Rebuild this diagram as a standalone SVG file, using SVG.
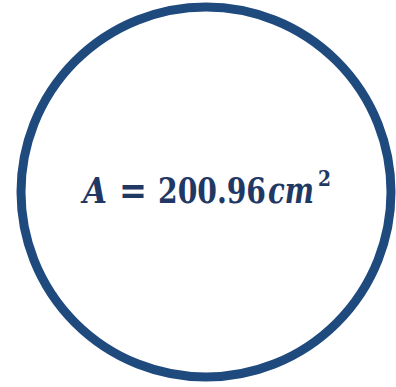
<svg xmlns="http://www.w3.org/2000/svg" width="396" height="387" viewBox="0 0 396 387">
<style>
.t{font-family:"DejaVu Serif","Liberation Serif",serif;font-weight:bold;fill:#1F3864;}
.i{font-style:italic;}
</style>
<rect width="396" height="387" fill="#ffffff"/>
<g id="circle">
<circle cx="206" cy="192" r="185" fill="#ffffff" stroke="#1F4A7E" stroke-width="9"/>
</g>
<g id="label">
<text class="t i" x="83" y="203" font-size="35" textLength="24" lengthAdjust="spacingAndGlyphs">A</text>
<text class="t" x="119" y="204" font-size="40" textLength="28" lengthAdjust="spacingAndGlyphs">=</text>
<text class="t" x="158" y="203" font-size="35" textLength="108" lengthAdjust="spacingAndGlyphs">200.96</text>
<text class="t i" x="268" y="203" font-size="35" textLength="46" lengthAdjust="spacingAndGlyphs">cm</text>
<text class="t" x="318" y="186" font-size="22" textLength="13" lengthAdjust="spacingAndGlyphs">2</text>
</g>
</svg>
